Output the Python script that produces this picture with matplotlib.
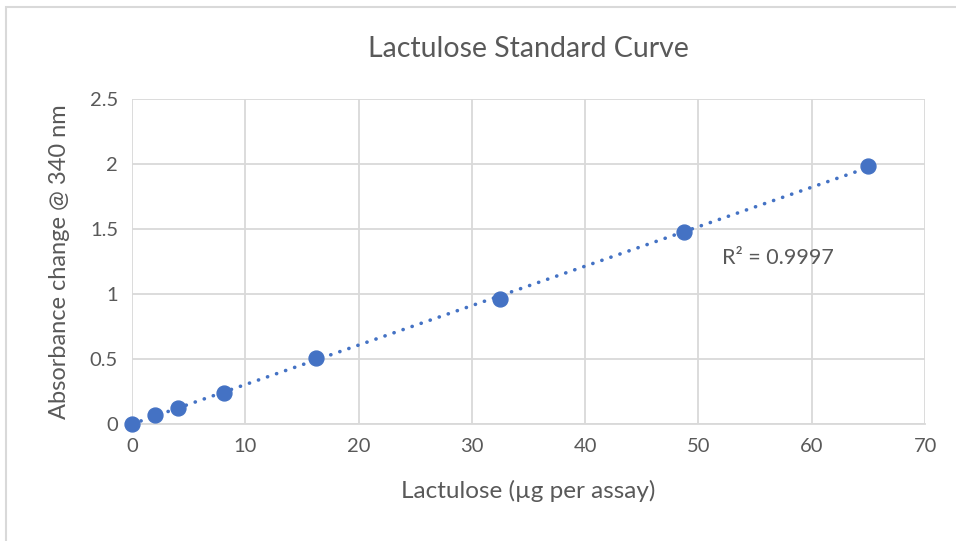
import numpy as np
import matplotlib.pyplot as plt
from matplotlib.patches import Rectangle

lactulosa = [0, 2.03, 4.06, 8.13, 16.25, 32.5, 48.75, 65]
absorbancia = [0, 0.068, 0.123, 0.238, 0.51, 0.96, 1.478, 1.985]
r2_texto = "R² = 0.9997"

plt.rcParams['font.family'] = ['Lato', 'DejaVu Sans']
gris = '#595959'

fig = plt.figure(figsize=(9.56, 5.41), dpi=100)
ax = fig.add_axes([0.138, 0.2163, 0.8297, 0.6007])

# borde del grafico
fig.patches.append(Rectangle((5.5 / 956, -0.1), 1.2, 1 - 6.5 / 541 + 0.1,
                             transform=fig.transFigure, fill=False,
                             edgecolor='#d9d9d9', linewidth=1.5))

# linea de tendencia lineal
m, b = np.polyfit(lactulosa, absorbancia, 1)
xs = np.array([0, max(lactulosa)])
ax.plot(xs, m * xs + b, linestyle=(0, (0.05, 2.6)), color='#4472c4',
        linewidth=2.6, dash_capstyle='round', solid_capstyle='round', zorder=3)
ax.scatter(lactulosa, absorbancia, s=115, color='#4472c4', zorder=4,
           clip_on=False)

ax.set_xlim(0, 70)
ax.set_ylim(0, 2.5)
ax.set_xticks(range(0, 71, 10))
ax.set_yticks([0, 0.5, 1, 1.5, 2, 2.5])
ax.set_yticklabels(['0', '0.5', '1', '1.5', '2', '2.5'])
ax.grid(True, color='#d9d9d9', linewidth=1.3)
ax.set_axisbelow(True)
for lado in ['top', 'right', 'left']:
    ax.spines[lado].set_visible(False)
ax.spines['bottom'].set_color('#d9d9d9')
ax.spines['bottom'].set_linewidth(1.3)
ax.tick_params(length=0, labelsize=14.5, colors=gris, pad=10)

ax.set_title("Lactulose Standard Curve", fontsize=20.5, color=gris, pad=30)
ax.set_xlabel("Lactulose (µg per assay)", fontsize=17.5, color=gris, labelpad=18)
ax.set_ylabel("Absorbance change @ 340 nm", fontsize=17, color=gris, labelpad=14)

ax.text(57, 1.28, r2_texto, fontsize=15.5, color=gris, ha='center', va='center')

fig.savefig("out.png", dpi=100)
